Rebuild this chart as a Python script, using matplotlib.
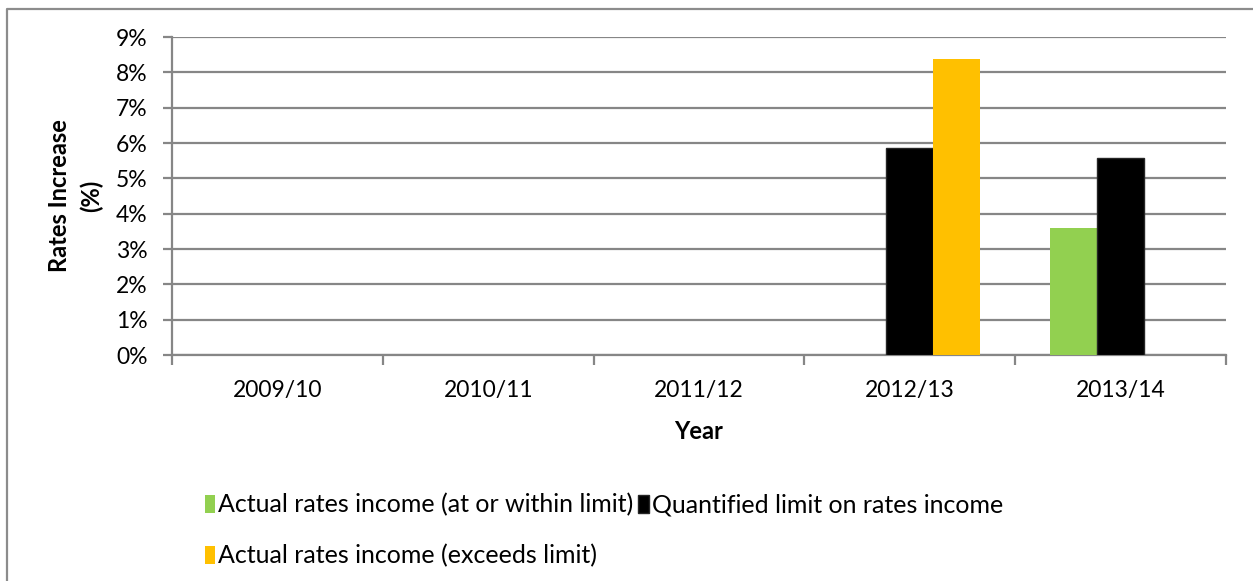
import numpy as np
import matplotlib.pyplot as plt
from matplotlib.lines import Line2D
from matplotlib.patches import Patch

# chart data (percent rates increase)
years = ["2009/10", "2010/11", "2011/12", "2012/13", "2013/14"]
within_limit = [np.nan, np.nan, np.nan, np.nan, 3.6]
quantified_limit = [np.nan, np.nan, np.nan, 5.87, 5.57]
exceeds_limit = [np.nan, np.nan, np.nan, 8.38, np.nan]
y_ticks = [0, 1, 2, 3, 4, 5, 6, 7, 8, 9]

GREEN = "#92d050"
BLACK = "#000000"
ORANGE = "#ffc000"
GRID = "#868686"
FS = 16.5

plt.rcParams["font.family"] = ["Lato", "DejaVu Sans"]

fig = plt.figure(figsize=(12.53, 5.81), dpi=100)
ax = fig.add_axes([172 / 1253, 1 - 355 / 581, (1226 - 172) / 1253, (355 - 37) / 581])

x = np.arange(len(years))
w = 0.222
ax.bar(x - w, within_limit, w, color=GREEN, zorder=3)
ax.bar(x, quantified_limit, w, color=BLACK, edgecolor="#262626", linewidth=1, zorder=3)
ax.bar(x + w, exceeds_limit, w, color=ORANGE, zorder=3)

ax.set_xlim(-0.5, len(years) - 0.5)
ax.set_ylim(0, 9)
ax.set_yticks(y_ticks)
ax.set_yticklabels([f"{v}%" for v in y_ticks])
ax.set_xticks(x)
ax.set_xticklabels(years)
ax.set_xticks(np.arange(len(years) + 1) - 0.5, minor=True)

ax.yaxis.grid(True, color=GRID, linewidth=1.6, zorder=0)
for s in ["top", "right"]:
    ax.spines[s].set_visible(False)
for s in ["left", "bottom"]:
    ax.spines[s].set_color(GRID)
    ax.spines[s].set_linewidth(1.6)

ax.tick_params(axis="y", length=6.5, width=1.6, color=GRID, labelsize=FS, pad=11)
ax.tick_params(axis="x", which="major", length=0, labelsize=FS, pad=18)
ax.tick_params(axis="x", which="minor", length=7, width=1.6, color=GRID)

ax.set_xlabel("Year", fontsize=17, fontweight="bold", labelpad=14)
ax.set_ylabel("Rates Increase\n(%)", fontsize=17, fontweight="bold", labelpad=9, linespacing=1.45)

handles = [
    Patch(facecolor=GREEN, label="Actual rates income (at or within limit)"),
    Patch(facecolor=ORANGE, label="Actual rates income (exceeds limit)"),
    Patch(facecolor=BLACK, edgecolor="#262626", label="Quantified limit on rates income"),
]
fig.legend(handles=handles, ncol=2, loc="upper left", bbox_to_anchor=(192 / 1253, 1 - 481 / 581),
           frameon=False, fontsize=18, handlelength=0.42, handleheight=0.75, handletextpad=0.12,
           columnspacing=0.2, labelspacing=1.1, borderpad=0)

# outer chart border (left and top edges visible)
fig.add_artist(Line2D([7 / 1253, 7 / 1253, 1.0], [0.0, 1 - 9 / 581, 1 - 9 / 581],
                      transform=fig.transFigure, color="#8c8c8c", linewidth=1.6))

fig.savefig("out.png", dpi=100)
